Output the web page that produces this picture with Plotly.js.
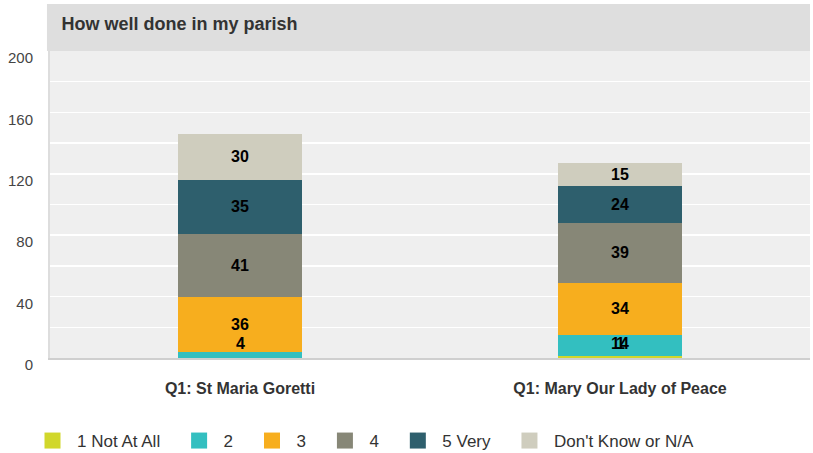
<!DOCTYPE html>
<html>
<head>
<meta charset="utf-8">
<script src="https://cdn.plot.ly/plotly-3.0.1.min.js"></script>
<style>html,body{margin:0;padding:0;background:#fff;}#chart{width:813px;height:453px;}</style>
</head>
<body>
<div id="chart"></div>
<script>
const chartTitle = "How well done in my parish";
const categories = ["Q1: St Maria Goretti", "Q1: Mary Our Lady of Peace"];
const seriesNames = ["1 Not At All", "2", "3", "4", "5 Very", "Don't Know or N/A"];
const notAtAll = [0, 1];
const two = [4, 14];
const three = [36, 34];
const four = [41, 39];
const fiveVery = [35, 24];
const dontKnow = [30, 15];
const yTicks = [0, 40, 80, 120, 160, 200];

const seriesValues = [notAtAll, two, three, four, fiveVery, dontKnow];
const colors = ["#d1d72b", "#33bfc0", "#f7ae1e", "#878777", "#2e5f6d", "#cfcdbe"];

const traces = seriesValues.map((vals, i) => ({
  type: "bar",
  name: seriesNames[i],
  x: categories,
  y: vals,
  width: 0.325,
  marker: {color: colors[i], line: {width: 0}},
  showlegend: false,
  legendgroup: "g" + i,
  hoverinfo: "x+y+name"
}));
// legend entries with larger square keys
seriesNames.forEach((n, i) => {
  traces.push({
    type: "scatter", mode: "markers",
    x: [null], y: [null],
    name: n + "&nbsp;&nbsp;",
    legendgroup: "g" + i,
    marker: {symbol: "square", size: 16, color: colors[i], line: {width: 0}},
    showlegend: true
  });
});

// value labels centred in each segment (raised when the segment is too thin)
const minLabelY = 9.5;
const annotations = [];
categories.forEach((cat, ci) => {
  let base = 0;
  seriesValues.forEach((vals) => {
    const v = vals[ci];
    if (v > 0) {
      annotations.push({
        x: cat, y: Math.max(base + v / 2, minLabelY), xref: "x", yref: "y",
        text: String(v), showarrow: false,
        font: {family: "Liberation Sans, Arial, sans-serif", size: 16, color: "#000", weight: "bold"}
      });
    }
    base += v;
  });
});

const layout = {
  width: 813, height: 453,
  margin: {l: 50, r: 3, t: 51, b: 95},
  paper_bgcolor: "#ffffff",
  plot_bgcolor: "#efefef",
  barmode: "stack",
  showlegend: true,
  title: {
    text: "<b>" + chartTitle + "</b>",
    font: {family: "Liberation Sans, Arial, sans-serif", size: 18, color: "#333"},
    xref: "paper", x: 0.015, xanchor: "left",
    yref: "container", y: 1 - 24 / 453, yanchor: "middle"
  },
  shapes: [{
    type: "rect", xref: "paper", yref: "paper",
    x0: -0.004, x1: 1, y0: 1, y1: 1 + 47 / 307,
    fillcolor: "#dedede", line: {width: 0}, layer: "below"
  }],
  xaxis: {
    type: "category",
    tickfont: {family: "Liberation Sans, Arial, sans-serif", size: 16, color: "#333", weight: "bold"},
    ticks: "", showgrid: false,
    showline: true, linecolor: "#cfcfcf", linewidth: 2,
    ticklabelstandoff: 15,
    fixedrange: true
  },
  yaxis: {
    range: [0, 200],
    tickvals: yTicks,
    ticktext: yTicks.map(String),
    tickfont: {family: "Liberation Sans, Arial, sans-serif", size: 15, color: "#444"},
    ticks: "",
    showgrid: true, gridcolor: "#ffffff", gridwidth: 1.5,
    minor: {dtick: 20, showgrid: true, gridcolor: "#ffffff", gridwidth: 1.5},
    zeroline: false,
    showline: true, linecolor: "#dddddd", linewidth: 2,
    ticklabelstandoff: 12,
    ticklabelshift: 7,
    fixedrange: true
  },
  legend: {
    orientation: "h",
    xref: "container", x: 28 / 813, xanchor: "left",
    yref: "container", y: 1 - 441 / 453, yanchor: "middle",
    font: {family: "Liberation Sans, Arial, sans-serif", size: 17, color: "#333"},
    traceorder: "normal",
    itemwidth: 39,
    itemclick: false
  },
  annotations: annotations
};

Plotly.newPlot("chart", traces, layout, {displayModeBar: false, staticPlot: true});
</script>
</body>
</html>
